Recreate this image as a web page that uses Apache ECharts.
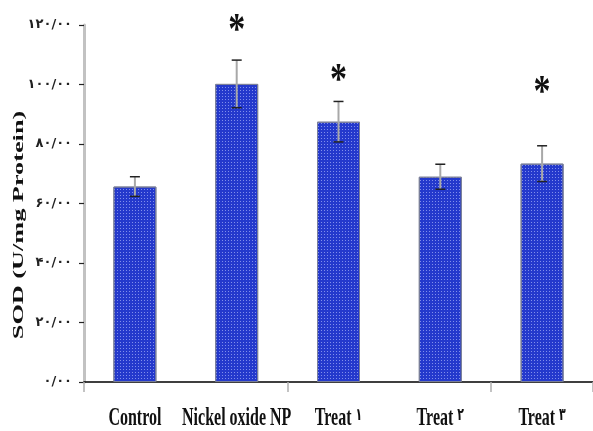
<!DOCTYPE html>
<html>
<head>
<meta charset="utf-8">
<script src="https://cdn.jsdelivr.net/npm/echarts@6/dist/echarts.min.js"></script>
<style>
  html, body { margin: 0; padding: 0; background: #ffffff; }
  #chart { width: 593px; height: 431px; }
</style>
</head>
<body>
<div id="chart"></div>
<script>
// SOD activity per group (mean ± SE)
const categories = ['Control', 'Nickel oxide NP', 'Treat ۱', 'Treat ۲', 'Treat ۳'];
const sodValues = [65.7, 100.2, 87.5, 69, 73.4];
const sodErrors = [3.3, 8, 6.8, 4.2, 6];
// height at which the significance mark sits (null = no mark)
const starLevels = [null, 120.5, 103.7, null, 99.7];
const yTickLabels = ['۰/۰۰', '۲۰/۰۰', '۴۰/۰۰', '۶۰/۰۰', '۸۰/۰۰', '۱۰۰/۰۰', '۱۲۰/۰۰'];
const yTitle = 'SOD (U/mg Protein)';

const chart = echarts.init(document.getElementById('chart'), null, { renderer: 'canvas' });

const errorData = categories.map((c, i) => [i, sodValues[i], sodErrors[i]]);
const starData = [];
starLevels.forEach((v, i) => { if (v !== null) starData.push([i, v]); });

chart.setOption({
  animation: false,
  backgroundColor: '#ffffff',
  grid: { left: 84, top: 25, width: 512, height: 357 },
  xAxis: {
    type: 'category',
    data: categories,
    axisLine: { lineStyle: { color: '#000000', width: 1.5 } },
    axisTick: { show: true, length: 10, lineStyle: { color: '#b0b0b0', width: 1.5 } },
    axisLabel: { show: false },
    splitLine: { show: false }
  },
  yAxis: {
    type: 'value',
    min: 0,
    max: 120,
    interval: 20,
    splitLine: { show: false },
    axisLine: { show: true, lineStyle: { color: '#c2c2c2', width: 3 } },
    axisTick: { show: true, length: 5, lineStyle: { color: '#222222', width: 1.2 } },
    axisLabel: {
      formatter: v => yTickLabels[Math.round(v / 20)],
      fontFamily: 'DejaVu Sans',
      fontWeight: 'bold',
      fontSize: 13,
      color: '#222222',
      margin: 12
    }
  },
  series: [
    {
      type: 'bar',
      data: sodValues,
      barWidth: 43,
      itemStyle: {
        color: '#2439cc',
        borderColor: '#7a7f98',
        borderWidth: 1,
        decal: {
          symbol: 'rect',
          symbolSize: 1,
          dashArrayX: [1, 2],
          dashArrayY: [1, 2],
          color: 'rgba(190,200,255,0.6)',
          rotation: 0
        }
      },
      z: 2
    },
    {
      type: 'custom',
      data: errorData,
      z: 5,
      renderItem: function (params, api) {
        const i = api.value(0);
        const v = api.value(1);
        const e = api.value(2);
        const top = api.coord([i, v + e]);
        const bot = api.coord([i, v - e]);
        const half = 5;
        return {
          type: 'group',
          children: [
            { type: 'line', shape: { x1: top[0], y1: top[1], x2: bot[0], y2: bot[1] },
              style: { stroke: '#a8a8a8', lineWidth: 2 } },
            { type: 'line', shape: { x1: top[0] - half, y1: top[1], x2: top[0] + half, y2: top[1] },
              style: { stroke: '#222222', lineWidth: 1.5 } },
            { type: 'line', shape: { x1: bot[0] - half, y1: bot[1], x2: bot[0] + half, y2: bot[1] },
              style: { stroke: '#222222', lineWidth: 1.5 } }
          ]
        };
      }
    },
    {
      type: 'custom',
      data: starData,
      z: 6,
      renderItem: function (params, api) {
        const p = api.coord([api.value(0), api.value(1)]);
        // the asterisk glyph sits high in its em box, so nudge it down
        return {
          type: 'text',
          x: p[0],
          y: p[1] + 8,
          scaleY: 1.3,
          style: {
            text: '*',
            font: 'bold 34px "Liberation Serif"',
            fill: '#111111',
            align: 'center',
            verticalAlign: 'middle',
            textAlign: 'center',
            textVerticalAlign: 'middle'
          }
        };
      }
    }
  ]
});

// Category labels and axis title, stretched vertically like the original artwork
const labelGraphics = categories.map((c, i) => {
  const px = chart.convertToPixel({ xAxisIndex: 0 }, c);
  const parts = c.split(' ');
  const last = parts[parts.length - 1];
  const isNumbered = /^[۰-۹]+$/.test(last);
  const text = isNumbered
    ? '{w|' + parts.slice(0, -1).join(' ') + ' }{n|' + last + '}'
    : '{w|' + c + '}';
  return {
    type: 'text',
    x: px,
    y: 419,
    scaleY: 1.55,
    style: {
      text: text,
      rich: {
        w: { font: 'bold 16px "Liberation Serif"', fill: '#111111' },
        n: { font: 'bold 11px "DejaVu Sans"', fill: '#111111', verticalAlign: 'top', padding: [0, 0, 4, 0] }
      },
      align: 'center',
      verticalAlign: 'middle',
      textAlign: 'center',
      textVerticalAlign: 'middle'
    }
  };
});
labelGraphics.push({
  type: 'text',
  x: 19,
  y: 225,
  rotation: Math.PI / 2,
  scaleX: 1.75,
  style: {
    text: yTitle,
    font: 'bold 15px "Liberation Serif"',
    fill: '#111111',
    align: 'center',
    verticalAlign: 'middle',
    textAlign: 'center',
    textVerticalAlign: 'middle'
  }
});
chart.setOption({ graphic: labelGraphics });
</script>
</body>
</html>
